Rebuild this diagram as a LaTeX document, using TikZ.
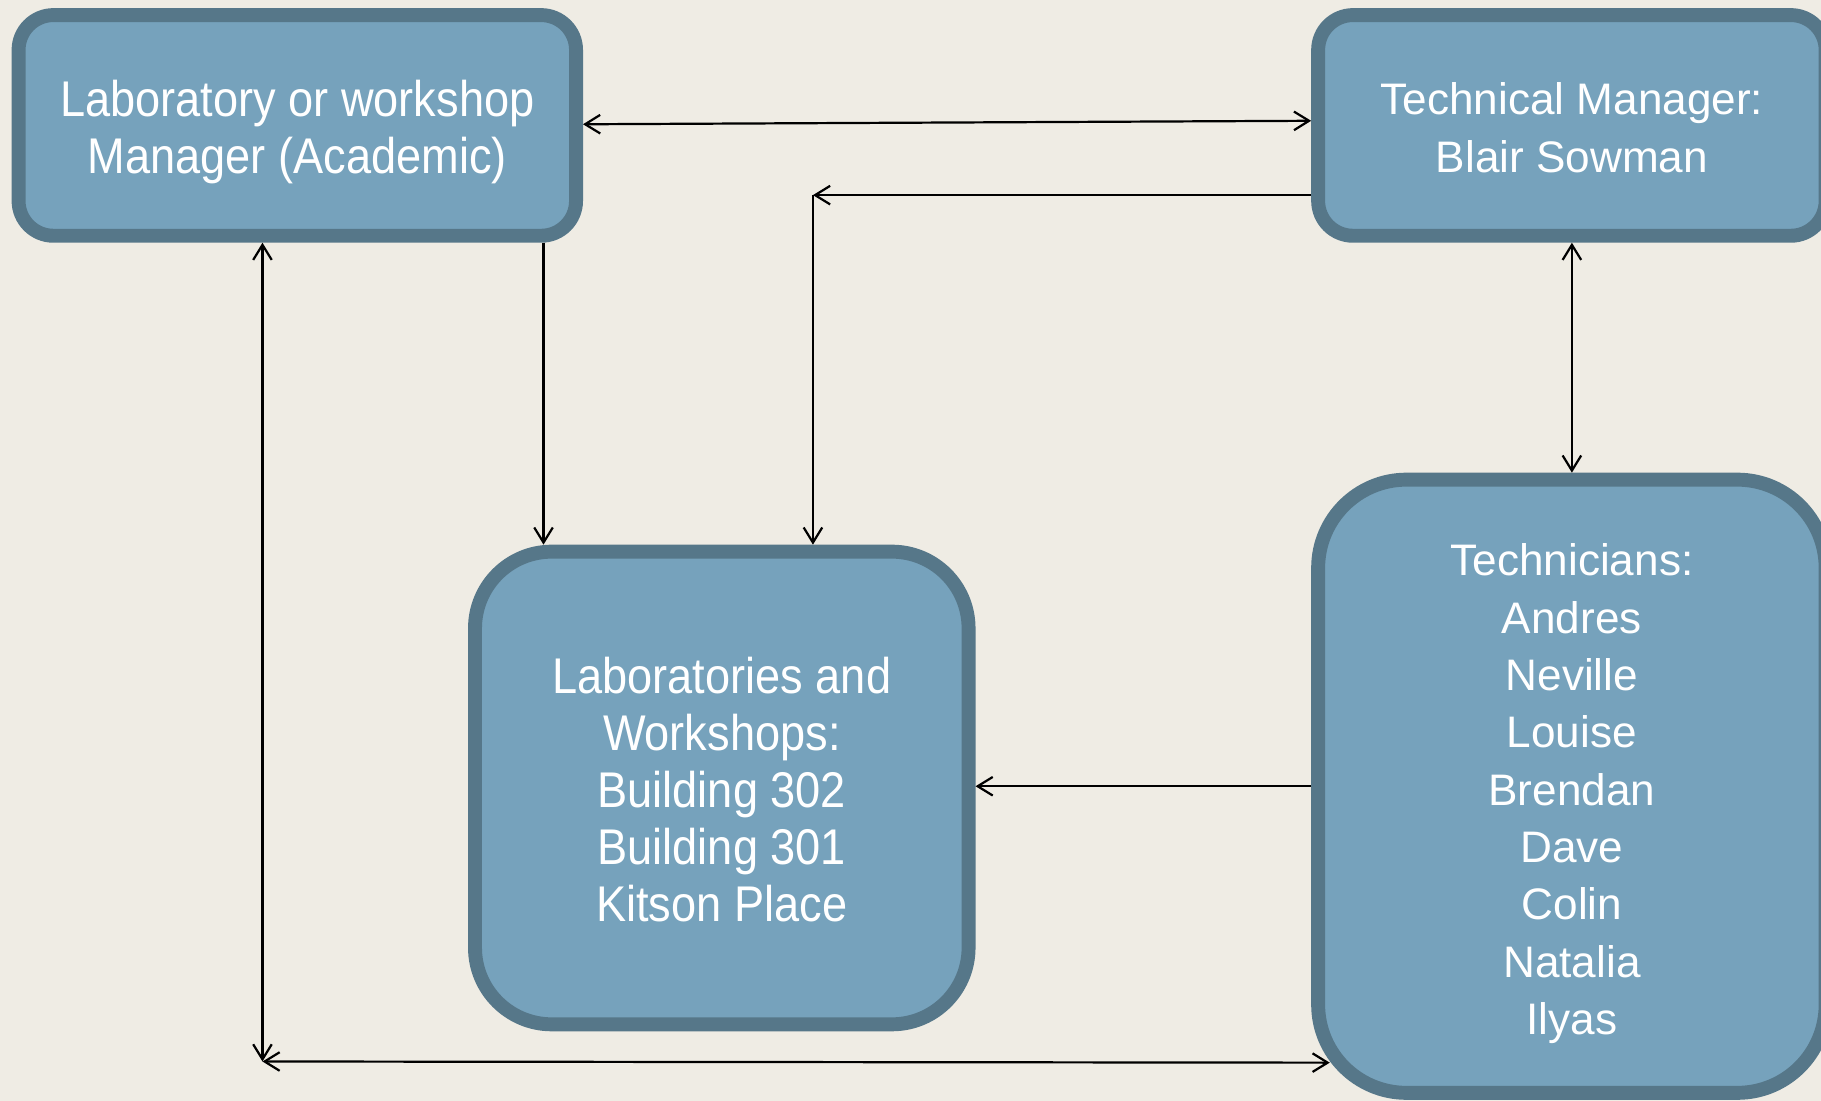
\documentclass[tikz,border=0pt]{standalone}
\usepackage{fontspec}
\setmainfont{Liberation Sans}
\newfontfamily\narrowfont[FakeStretch=0.9]{Liberation Sans}
\usetikzlibrary{arrows.meta,calc}
\definecolor{bgcol}{RGB}{239,236,228}
\definecolor{boxfill}{RGB}{118,162,188}
\definecolor{boxline}{RGB}{86,119,137}
\tikzset{
  box/.style={draw=boxline, fill=boxfill, line width=6pt, rounded corners=#1, inner sep=0pt},
  boxtext/.style={text=white, align=center, inner sep=0pt},
  narrowtxt/.style={font=\narrowfont\fontsize{21.6}{24.5}\selectfont},
  widetxt/.style={font=\fontsize{19}{24.7}\selectfont},
  tipv/.tip={Straight Barb[length=6.5pt,width=8pt]},
  link/.style={line width=0.95pt, -tipv},
  both/.style={line width=0.95pt, tipv-tipv},
}
\begin{document}
\begin{tikzpicture}[x=0.5pt,y=-0.5pt]
  % page and background
  \fill[bgcol] (0,0) rectangle (1568,948);
  \useasboundingbox (0,0) rectangle (1568,948);

  % boxes
  \node[box=15pt, minimum width=240pt, minimum height=95pt] (mgr) at (256,108) {};
  \node[box=15pt, minimum width=218.5pt, minimum height=95pt] (tm) at (1353.5,108) {};
  \node[box=33pt, minimum width=212.5pt, minimum height=203.5pt] (labs) at (621.5,678.5) {};
  \node[box=38pt, minimum width=218.5pt, minimum height=264pt] (tech) at (1353.5,677) {};

  % box texts
  \node[boxtext, narrowtxt] (mgrtext) at ([yshift=-2.75pt]mgr.center)
    {Laboratory or workshop\\Manager (Academic)};
  \node[boxtext, widetxt] (tmtext) at ([yshift=-1pt]tm.center)
    {Technical Manager:\\Blair Sowman};
  \node[boxtext, narrowtxt] (labstext) at ([yshift=-0.75pt]labs.center)
    {Laboratories and\\Workshops:\\Building 302\\Building 301\\Kitson Place};
  \node[boxtext, widetxt] (techtext) at ([yshift=-3.25pt]tech.center)
    {Technicians:\\Andres\\Neville\\Louise\\Brendan\\Dave\\Colin\\Natalia\\Ilyas};

  % free ends of the connectors
  \coordinate (elbow) at (700,168);
  \coordinate (lowleft) at (226,914);
  \coordinate (lowright) at (1145,915);

  % connectors
  \draw[both] ([yshift=0.5pt]mgr.east) -- ([yshift=2pt]tm.west);
  \draw[link] ([yshift=-30pt]tm.west) -- (elbow);
  \draw[link] (elbow) -- (elbow |- labs.north);
  \draw[link] ([xshift=106pt]mgr.south) -- ([xshift=106pt]mgr.south |- labs.north);
  \draw[both] ([xshift=-15pt]mgr.south) -- (lowleft);
  \draw[both] (lowleft) -- (lowright);
  \draw[both] (tm.south) -- (tech.north);
  \draw[link] (tech.west) -- (tech.west -| labs.east);
\end{tikzpicture}
\end{document}
